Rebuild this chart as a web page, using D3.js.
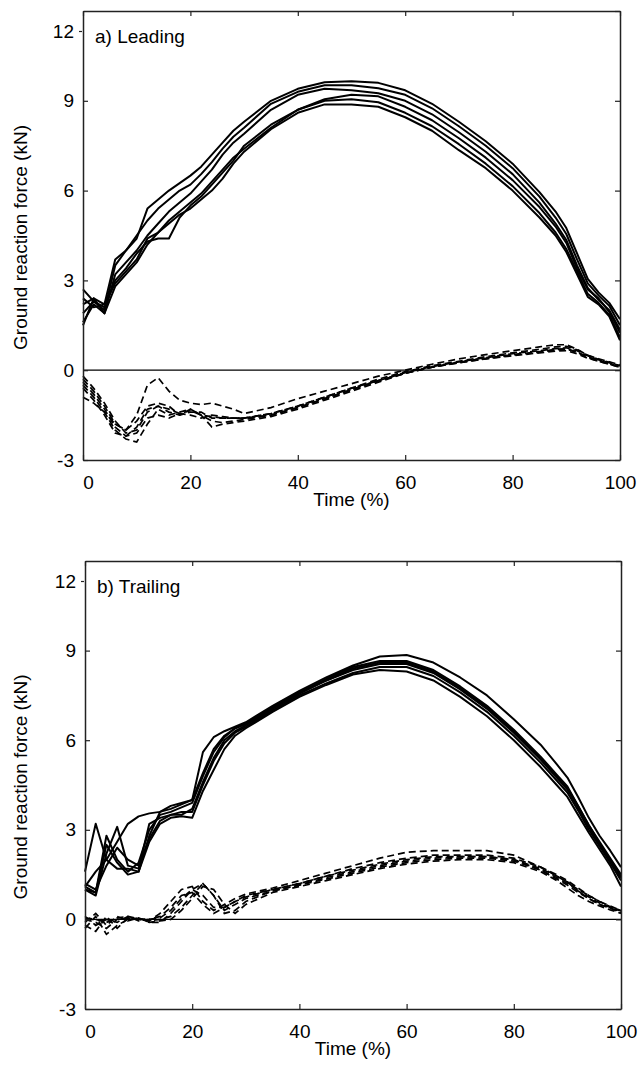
<!DOCTYPE html>
<html>
<head>
<meta charset="utf-8">
<script src="https://cdn.jsdelivr.net/npm/d3@7"></script>
<style>
  body { margin: 0; background: #fff; }
  svg { font-family: "Liberation Sans", Arial, sans-serif; }
</style>
</head>
<body>
<svg width="639" height="1065"></svg>
<script>
// time axis (% of stance) shared by every trial
var time = [0,2,4,6,8,10,12,14,16,18,20,22,24,26,28,30,35,40,45,50,55,60,65,70,75,80,85,88,90,92,94,96,98,100];

var xTicks = [0, 20, 40, 60, 80, 100];
var yTicks = [-3, 0, 3, 6, 9, 12];

// a) leading limb - vertical force, one array per trial (kN)
var leadVert = [
  [2.7,2.3,2.0,3.5,4.0,4.4,5.4,5.7,6.0,6.25,6.5,6.8,7.2,7.6,8.0,8.3,9.0,9.4,9.62,9.65,9.6,9.35,8.9,8.3,7.65,6.9,5.95,5.3,4.75,3.9,3.05,2.6,2.25,1.7],
  [2.2,2.4,2.2,3.7,4.0,4.5,5.0,5.4,5.7,6.0,6.2,6.55,6.95,7.4,7.8,8.1,8.9,9.3,9.52,9.52,9.42,9.2,8.75,8.15,7.5,6.75,5.8,5.1,4.55,3.7,2.9,2.5,2.15,1.5],
  [1.6,2.2,1.9,3.2,3.6,4.0,4.5,4.9,5.3,5.6,5.9,6.3,6.7,7.2,7.6,7.9,8.7,9.2,9.4,9.35,9.25,9.0,8.55,7.95,7.3,6.55,5.6,4.9,4.35,3.5,2.75,2.35,2.0,1.35],
  [1.9,2.3,2.1,3.0,3.4,3.9,4.3,4.4,4.4,5.1,5.5,5.8,6.2,6.6,7.0,7.5,8.2,8.7,9.0,9.05,8.95,8.6,8.15,7.55,6.9,6.15,5.25,4.6,4.05,3.3,2.55,2.25,1.85,1.1],
  [2.4,2.1,2.2,2.9,3.3,3.7,4.4,4.6,5.0,5.3,5.6,5.9,6.3,6.7,7.1,7.4,8.1,8.7,9.05,9.2,9.15,8.8,8.35,7.75,7.1,6.35,5.45,4.8,4.25,3.4,2.7,2.4,1.95,1.25],
  [1.5,2.4,1.9,2.8,3.2,3.6,4.2,4.6,4.9,5.2,5.4,5.7,6.0,6.4,6.9,7.3,8.05,8.6,8.88,8.88,8.8,8.45,8.0,7.35,6.75,6.0,5.1,4.5,3.95,3.2,2.45,2.2,1.8,1.0]
];

// a) leading limb - fore-aft force (kN)
var leadAP = [
  [-0.3,-0.7,-1.2,-1.8,-2.0,-1.5,-0.5,-0.25,-0.7,-1.0,-1.1,-1.15,-1.1,-1.2,-1.3,-1.45,-1.25,-0.95,-0.7,-0.45,-0.2,0.0,0.2,0.38,0.52,0.65,0.78,0.85,0.85,0.7,0.5,0.38,0.28,0.18],
  [-0.5,-0.9,-1.4,-2.0,-2.3,-2.4,-1.8,-1.3,-1.5,-1.4,-1.3,-1.5,-1.9,-1.8,-1.75,-1.7,-1.55,-1.3,-1.0,-0.7,-0.4,-0.1,0.1,0.25,0.38,0.5,0.6,0.68,0.7,0.6,0.42,0.3,0.2,0.1],
  [-0.9,-1.1,-1.4,-1.8,-2.0,-1.7,-1.2,-1.1,-1.2,-1.5,-1.4,-1.4,-1.6,-1.6,-1.6,-1.6,-1.45,-1.2,-0.9,-0.6,-0.35,-0.08,0.12,0.28,0.42,0.55,0.65,0.72,0.75,0.65,0.48,0.35,0.25,0.15],
  [-0.2,-0.6,-1.1,-1.7,-2.1,-2.0,-1.4,-1.2,-1.3,-1.45,-1.35,-1.5,-1.55,-1.6,-1.6,-1.6,-1.5,-1.25,-0.95,-0.65,-0.35,-0.1,0.1,0.25,0.38,0.48,0.58,0.64,0.65,0.55,0.4,0.3,0.2,0.1],
  [-0.6,-1.0,-1.5,-2.1,-2.2,-1.9,-1.3,-1.2,-1.4,-1.5,-1.3,-1.5,-1.7,-1.75,-1.7,-1.65,-1.5,-1.25,-0.95,-0.65,-0.35,-0.1,0.1,0.27,0.4,0.52,0.62,0.7,0.72,0.6,0.45,0.33,0.22,0.12],
  [-0.4,-0.8,-1.3,-1.9,-2.2,-2.1,-1.6,-1.5,-1.6,-1.45,-1.5,-1.6,-1.5,-1.55,-1.6,-1.6,-1.45,-1.2,-0.9,-0.6,-0.3,-0.05,0.15,0.3,0.45,0.58,0.7,0.78,0.8,0.68,0.5,0.36,0.26,0.15]
];

// b) trailing limb - vertical force (kN)
var trailVert = [
  [1.6,3.2,2.0,1.7,1.7,1.6,2.8,3.6,3.8,3.9,4.0,5.6,6.1,6.3,6.45,6.6,7.15,7.65,8.1,8.5,8.8,8.85,8.6,8.1,7.5,6.7,5.85,5.2,4.75,4.1,3.4,2.8,2.3,1.75],
  [1.1,0.9,2.8,2.0,1.6,1.9,3.0,3.5,3.6,3.75,3.9,4.8,5.6,6.1,6.4,6.55,7.1,7.6,8.05,8.45,8.65,8.65,8.35,7.8,7.15,6.35,5.45,4.85,4.45,3.8,3.15,2.6,2.05,1.5],
  [1.0,0.8,2.2,3.1,1.8,1.7,3.2,3.4,3.5,3.6,3.6,4.5,5.3,5.9,6.25,6.45,7.0,7.5,7.9,8.25,8.45,8.45,8.15,7.6,6.95,6.15,5.25,4.65,4.25,3.65,3.0,2.45,1.9,1.3],
  [1.2,1.0,1.8,2.4,2.0,1.8,2.7,3.3,3.5,3.5,3.7,4.6,5.4,6.0,6.3,6.5,7.05,7.55,8.0,8.35,8.55,8.55,8.25,7.7,7.05,6.25,5.35,4.75,4.35,3.75,3.1,2.5,2.0,1.4],
  [1.0,0.9,2.5,1.9,1.5,1.6,2.6,3.2,3.4,3.45,3.4,4.3,5.0,5.7,6.15,6.4,6.95,7.45,7.85,8.2,8.35,8.3,8.0,7.45,6.8,6.0,5.1,4.5,4.1,3.5,2.9,2.35,1.8,1.1],
  [1.1,1.6,2.0,2.6,3.2,3.45,3.55,3.6,3.7,3.85,4.0,4.9,5.7,6.15,6.4,6.55,7.1,7.6,8.0,8.4,8.6,8.6,8.3,7.75,7.1,6.3,5.4,4.8,4.4,3.8,3.15,2.55,2.0,1.4]
];

// b) trailing limb - fore-aft force (kN)
var trailAP = [
  [0.0,-0.1,-0.3,0.0,0.05,0.0,-0.05,0.2,0.6,1.0,1.1,0.6,0.3,0.5,0.7,0.85,1.05,1.3,1.55,1.8,2.05,2.25,2.3,2.3,2.3,2.15,1.75,1.45,1.25,0.95,0.75,0.55,0.4,0.28],
  [-0.3,0.1,-0.5,-0.2,0.0,0.05,-0.1,-0.1,0.2,0.6,1.0,1.2,0.8,0.3,0.5,0.7,0.95,1.15,1.4,1.6,1.8,1.95,2.05,2.1,2.1,2.0,1.7,1.45,1.25,1.0,0.8,0.6,0.45,0.3],
  [0.1,-0.2,0.0,-0.1,0.1,-0.05,0.0,0.1,0.4,0.8,0.9,0.5,0.2,0.4,0.6,0.75,1.0,1.2,1.45,1.65,1.85,2.0,2.1,2.1,2.1,2.0,1.65,1.35,1.15,0.9,0.7,0.5,0.38,0.25],
  [-0.1,0.2,-0.2,0.1,-0.05,0.05,-0.1,-0.05,0.0,0.3,0.7,1.1,1.0,0.5,0.2,0.5,0.9,1.1,1.3,1.5,1.7,1.85,1.95,2.0,2.0,1.9,1.6,1.3,1.05,0.8,0.6,0.45,0.32,0.2],
  [-0.2,-0.4,0.1,-0.3,0.05,0.0,-0.05,0.0,0.1,0.4,0.8,1.2,0.8,0.2,0.3,0.6,0.95,1.15,1.35,1.55,1.75,1.9,2.0,2.05,2.05,1.95,1.65,1.4,1.2,0.95,0.7,0.5,0.38,0.22],
  [0.05,0.0,-0.1,0.05,0.1,0.02,0.0,0.05,0.3,0.7,1.0,0.8,0.4,0.4,0.6,0.8,1.0,1.2,1.45,1.7,1.9,2.05,2.15,2.15,2.15,2.05,1.75,1.5,1.3,1.05,0.8,0.6,0.42,0.3]
];

var svg = d3.select("svg");
var fs = 19;

function drawPanel(box, title, vert, ap) {
  var x = d3.scaleLinear().domain([0, 100]).range([box.left, box.right]);
  var y = d3.scaleLinear().domain([-3, 12]).range([box.bottom, box.top]);
  var g = svg.append("g");

  // traces
  var line = d3.line()
    .x(function(d, i) { return x(time[i]); })
    .y(function(d) { return y(d); });

  g.append("g").selectAll("path").data(ap).enter().append("path")
    .attr("d", line)
    .attr("fill", "none")
    .attr("stroke", "#000")
    .attr("stroke-width", 1.7)
    .attr("stroke-dasharray", "7,4");

  g.append("g").selectAll("path").data(vert).enter().append("path")
    .attr("d", line)
    .attr("fill", "none")
    .attr("stroke", "#000")
    .attr("stroke-width", 2)
    .attr("stroke-linejoin", "round");

  // zero line
  g.append("line")
    .attr("x1", x(0)).attr("x2", x(100))
    .attr("y1", y(0)).attr("y2", y(0))
    .attr("stroke", "#000").attr("stroke-width", 1.2);

  // axes, ticks pointing in like matlab; plain hyphen for negatives
  var fmt = function(d) { return String(d); };
  var bottom = g.append("g").attr("transform", "translate(0," + box.bottom + ")")
    .call(d3.axisBottom(x).tickValues(xTicks).tickSizeInner(-5).tickSizeOuter(0).tickPadding(16).tickFormat(fmt));
  var top = g.append("g").attr("transform", "translate(0," + box.top + ")")
    .call(d3.axisTop(x).tickValues(xTicks).tickSizeInner(-5).tickSizeOuter(0).tickFormat(""));
  var left = g.append("g").attr("transform", "translate(" + box.left + ",0)")
    .call(d3.axisLeft(y).tickValues(yTicks).tickSizeInner(-5).tickSizeOuter(0).tickPadding(9).tickFormat(fmt));
  var right = g.append("g").attr("transform", "translate(" + box.right + ",0)")
    .call(d3.axisRight(y).tickValues(yTicks).tickSizeInner(-5).tickSizeOuter(0).tickFormat(""));

  [bottom, top, left, right].forEach(function(a) {
    a.select(".domain").attr("stroke", "#222").attr("stroke-width", 1.5);
    a.selectAll(".tick line").attr("stroke", "#222").attr("stroke-width", 1.2);
    a.selectAll("text").attr("font-size", fs).attr("fill", "#000")
      .attr("font-family", "'Liberation Sans', Arial, sans-serif");
  });

  // the "0" label sits a little right of the axis in the original
  bottom.selectAll(".tick").filter(function(d) { return d === 0; })
    .select("text").attr("x", 5);

  // top label "12" sits a bit below the frame in the original
  left.selectAll(".tick").filter(function(d) { return d === 12; })
    .each(function() {
      var t = d3.select(this);
      t.select("text").attr("y", 20);
      t.select("line").attr("x1", -4).attr("x2", -1).attr("y1", 20).attr("y2", 20);
    });

  g.append("text")
    .attr("x", box.left + 12).attr("y", box.top + 32)
    .attr("font-size", fs)
    .text(title);

  g.append("text")
    .attr("x", (box.left + box.right) / 2).attr("y", box.bottom + 46)
    .attr("text-anchor", "middle").attr("font-size", fs)
    .text("Time (%)");

  g.append("text")
    .attr("transform", "translate(" + 27 + "," + ((box.top + box.bottom) / 2 + 2) + ") rotate(-90)")
    .attr("text-anchor", "middle").attr("font-size", fs)
    .text("Ground reaction force (kN)");
}

drawPanel({left: 83, right: 620, top: 11, bottom: 460}, "a) Leading", leadVert, leadAP);
drawPanel({left: 85, right: 621, top: 561, bottom: 1009}, "b) Trailing", trailVert, trailAP);
</script>
</body>
</html>
